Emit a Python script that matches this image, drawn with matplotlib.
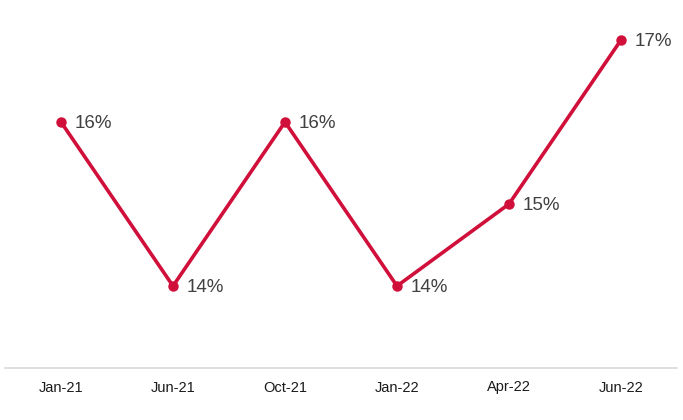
import matplotlib.pyplot as plt

plt.rcParams['font.family'] = ['Liberation Sans', 'DejaVu Sans']

months = ['Jan-21', 'Jun-21', 'Oct-21', 'Jan-22', 'Apr-22', 'Jun-22']
values = [16, 14, 16, 14, 15, 17]

red = '#d0103a'

fig = plt.figure(figsize=(6.83, 4.2), dpi=100)
ax = fig.add_axes([5 / 683, 1 - 368 / 420, 672 / 683, 368 / 420])

x = range(len(months))
ax.plot(x, values, color=red, lw=2.6, marker='o', ms=6.5, solid_capstyle='round')

for i, v in zip(x, values):
    ax.annotate(f'{v}%', (i, v), xytext=(10, 0), textcoords='offset points',
                va='center_baseline', ha='left', fontsize=13.5, color='#404040')

ax.set_xlim(-0.5, len(months) - 0.5)
ax.set_ylim(13, 16 + 122 / 82)
ax.set_xticks(list(x))
ax.set_xticklabels(months, fontsize=10.5, color='#1a1a1a')
ax.set_yticks([])
ax.tick_params(axis='x', length=0, pad=9)

for s in ['top', 'right', 'left']:
    ax.spines[s].set_visible(False)
ax.spines['bottom'].set_color('#d9d9d9')
ax.spines['bottom'].set_linewidth(1.2)

fig.savefig('out.png', dpi=100)
